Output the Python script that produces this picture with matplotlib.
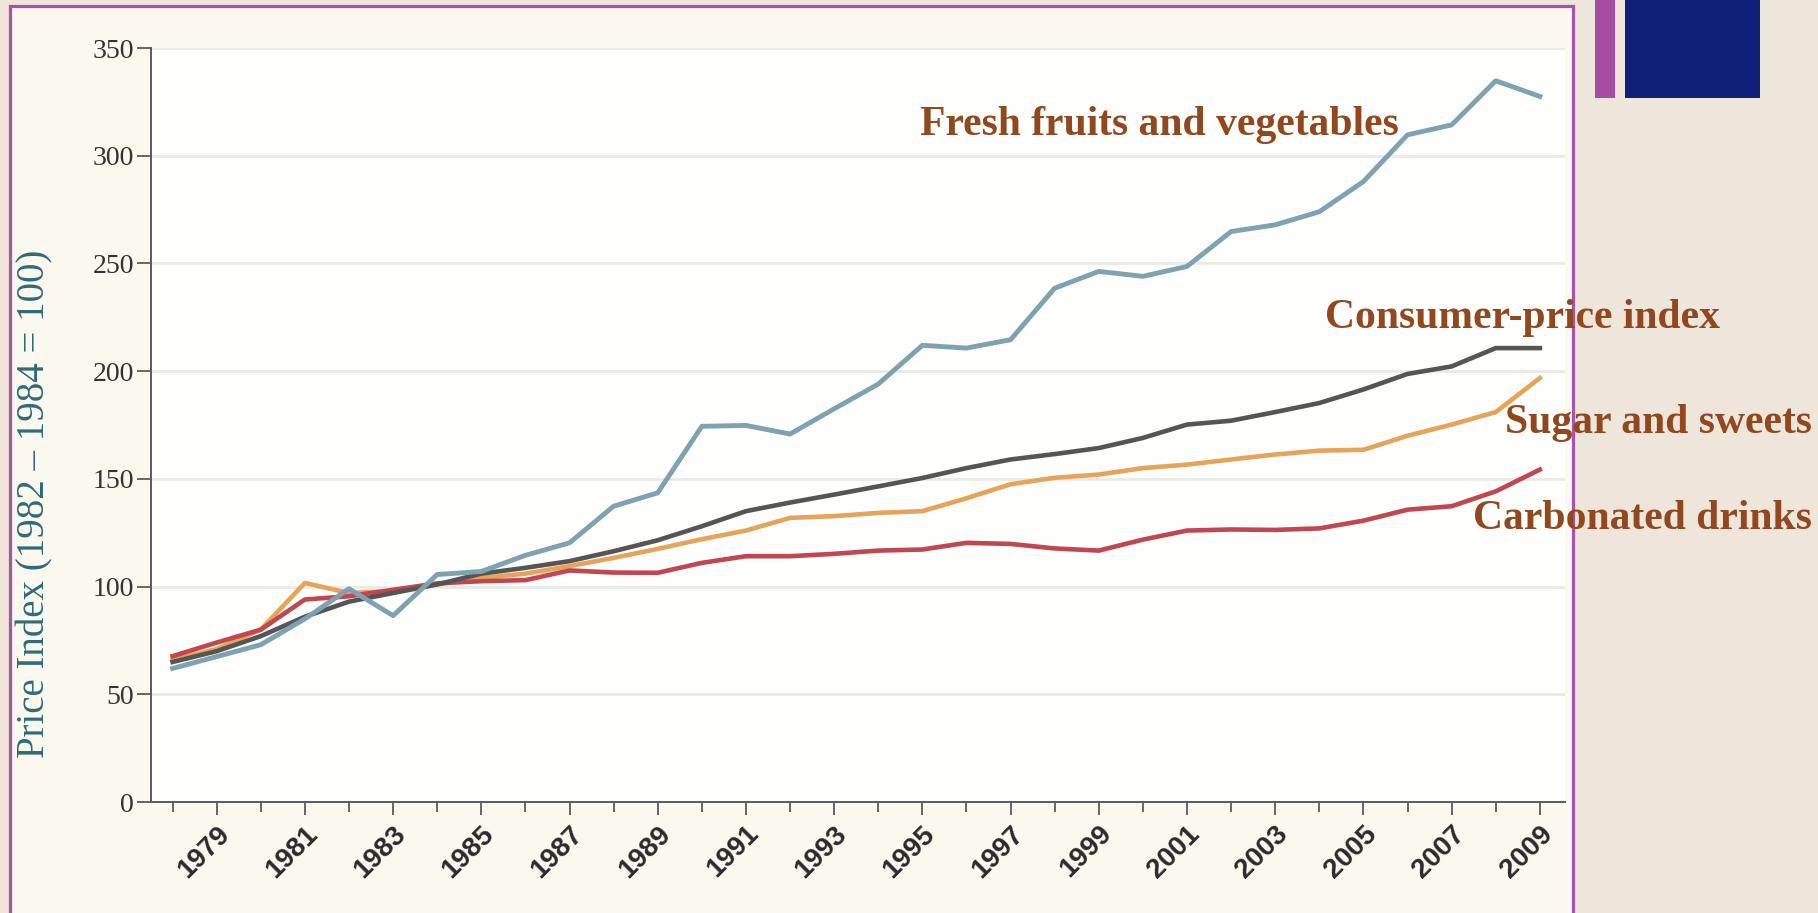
import matplotlib
matplotlib.use("Agg")
import matplotlib.pyplot as plt
from matplotlib.patches import Rectangle
from matplotlib.ticker import FixedLocator
from matplotlib.transforms import ScaledTranslation

# ---- data -------------------------------------------------------------
years = list(range(1978, 2010))

fresh_fruits_veg = [62, 67.5, 73, 85, 99, 86.5, 105.6, 107, 114.5, 120.3,
                    137.3, 143.5, 174.4, 174.8, 170.8, 182.5, 194, 212, 210.7, 214.6,
                    238.5, 246.3, 244, 248.6, 264.8, 267.9, 274, 288, 309.7, 314.3,
                    334.8, 327.5]

consumer_price_index = [65, 70, 77, 86, 93, 97, 101, 106, 108.7, 111.8,
                        116.4, 121.5, 128, 135, 139, 142.7, 146.5, 150.4, 155, 159,
                        161.5, 164.3, 169, 175.2, 177, 181, 185.2, 191.5, 198.7, 202.2,
                        210.7, 210.7]

sugar_sweets = [66, 71, 80, 101.7, 97, 98, 101, 104, 106, 109.5,
                113.3, 117.5, 122, 126, 131.9, 132.7, 134.2, 135, 141, 147.5,
                150.5, 152, 155, 156.6, 159, 161.3, 163.1, 163.5, 170, 175.2,
                181, 196.8]

carbonated_drinks = [67.7, 74, 80, 94, 95.5, 98.5, 101.5, 102.5, 103, 107.5,
                     106.5, 106.4, 111, 114.1, 114.1, 115.2, 116.7, 117.2, 120.3, 119.8,
                     117.7, 116.7, 121.8, 126, 126.5, 126.3, 127, 130.6, 135.7, 137.3,
                     144.2, 154.3]

y_ticks = [0, 50, 100, 150, 200, 250, 300, 350]
x_label_years = list(range(1979, 2010, 2))

series_labels = ["Fresh fruits and vegetables", "Consumer-price index",
                 "Sugar and sweets", "Carbonated drinks"]
y_title = "Price Index (1982 \u2013 1984 = 100)"

# ---- figure -------------------------------------------------------------
W, H = 1818, 913
fig = plt.figure(figsize=(W / 100, H / 100), dpi=100)
fig.patch.set_facecolor("#eee6db")


def frac_box(x0, y0, x1, y1):
    """Pixel box (top-left origin) -> figure-fraction (x, y, w, h)."""
    return x0 / W, 1 - y1 / H, (x1 - x0) / W, (y1 - y0) / H


# slide decorations in the top-right corner
for (x0, y0, x1, y1), col in [((1595, -5, 1615, 98), "#a34ea3"),
                              ((1625, -5, 1760, 98), "#101f78")]:
    x, y, w, h = frac_box(x0, y0, x1, y1)
    fig.patches.append(Rectangle((x, y), w, h, transform=fig.transFigure,
                                 facecolor=col, edgecolor="none", zorder=-10))

# cream chart panel with purple frame
x, y, w, h = frac_box(9.5, 6, 1573, 930)
fig.patches.append(Rectangle((x, y), w, h, transform=fig.transFigure,
                             facecolor="#fbf8ee", edgecolor="#a652ae",
                             linewidth=2.3, zorder=-10))

# ---- axes -------------------------------------------------------------
ax_left, ax_right, ax_top, ax_bottom = 150.5, 1565, 48, 802
ax = fig.add_axes([ax_left / W, 1 - ax_bottom / H,
                   (ax_right - ax_left) / W, (ax_bottom - ax_top) / H])
ax.set_zorder(1)
ax.set_facecolor("#fefefc")
ax.set_xlim(1977.5, 2009.57)
ax.set_ylim(0, 350)

for side in ("top", "right"):
    ax.spines[side].set_visible(False)
for side in ("left", "bottom"):
    ax.spines[side].set_color("#5a5a5a")
    ax.spines[side].set_linewidth(1.4)

ax.yaxis.set_major_locator(FixedLocator(y_ticks))
ax.set_yticklabels([str(v) for v in y_ticks], fontfamily="Liberation Serif",
                   fontsize=20, color="#333333")
ax.tick_params(axis="y", direction="out", length=10, width=1.3,
               color="#5a5a5a", pad=2)

ax.xaxis.set_major_locator(FixedLocator(x_label_years))
ax.xaxis.set_minor_locator(FixedLocator(years[::2]))
ax.set_xticklabels([str(v) for v in x_label_years], rotation=45,
                   ha="right", va="center", rotation_mode="anchor",
                   fontfamily="Liberation Sans", fontweight="bold",
                   fontsize=20, color="#2a2a2a")
ax.tick_params(axis="x", which="both", direction="out", width=1.3,
               color="#5a5a5a")
ax.tick_params(axis="x", which="major", length=9.4, pad=5)
ax.tick_params(axis="x", which="minor", length=7)

shift = ScaledTranslation(9 / 100, -8 / 100, fig.dpi_scale_trans)
for lab in ax.get_xticklabels():
    lab.set_transform(lab.get_transform() + shift)

ax.grid(axis="y", color="#e9e9e6", linewidth=2.0)
ax.set_axisbelow(True)

# ---- series -------------------------------------------------------------
lw = 3.3
ax.plot(years, sugar_sweets, color="#e6a45a", linewidth=lw,
        solid_joinstyle="round", zorder=3)
ax.plot(years, carbonated_drinks, color="#c2454f", linewidth=lw,
        solid_joinstyle="round", zorder=4)
ax.plot(years, consumer_price_index, color="#555555", linewidth=lw,
        solid_joinstyle="round", zorder=5)
ax.plot(years, fresh_fruits_veg, color="#7ea2b1", linewidth=lw + 0.2,
        solid_joinstyle="round", zorder=6)

# ---- series labels (serif, bold, brown) ------------------------------------
label_pos = [(920, 135), (1325, 328), (1505, 433), (1473, 529)]
for text, (px, py) in zip(series_labels, label_pos):
    fig.text(px / W, 1 - py / H, text, ha="left", va="baseline",
             fontfamily="Liberation Serif", fontweight="bold", fontsize=30,
             color="#92481f", zorder=10)

# ---- y title -------------------------------------------------------------
fig.text(35 / W, 1 - 504 / H, y_title, rotation=90, ha="center", va="center",
         fontfamily="Liberation Serif", fontsize=28, color="#2f6b78")

fig.savefig("out.png", dpi=100, facecolor=fig.get_facecolor())
